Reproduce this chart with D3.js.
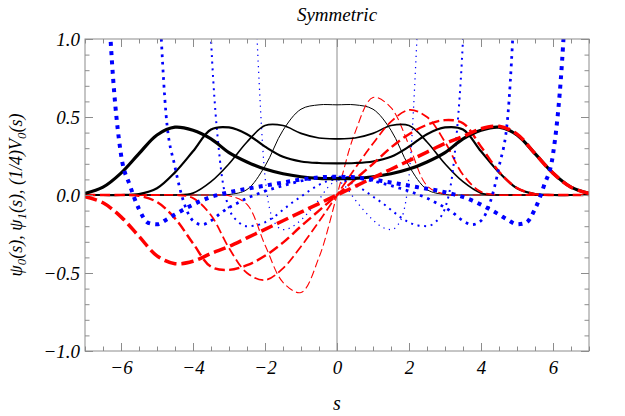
<!DOCTYPE html>
<html>
<head>
<meta charset="utf-8">
<script src="https://cdn.jsdelivr.net/npm/d3@7/dist/d3.min.js"></script>
<style>
    body { margin: 0; background: #fff; }
    svg text { font-family: "Liberation Serif", "DejaVu Serif", serif; font-style: italic; fill: #000; }
</style>
</head>
<body>
<script>
// sample positions (s) for the wave functions and for the potentials
const sPsi = [-7, -6.5, -6, -5.5, -5, -4.5, -4, -3.5, -3, -2.5, -2, -1.5, -1, -0.5, 0,
    0.5, 1, 1.5, 2, 2.5, 3, 3.5, 4, 4.5, 5, 5.5, 6, 6.5, 7];
const sV = [-7, -6.75, -6.5, -6.25, -6, -5.75, -5.5, -5.25, -5, -4.75, -4.5, -4.25, -4, -3.75,
    -3.5, -3.25, -3, -2.75, -2.5, -2.25, -2, -1.75, -1.5, -1.25, -1, -0.75, -0.5, -0.25, 0,
    0.25, 0.5, 0.75, 1, 1.25, 1.5, 1.75, 2, 2.25, 2.5, 2.75, 3, 3.25, 3.5, 3.75, 4, 4.25,
    4.5, 4.75, 5, 5.25, 5.5, 5.75, 6, 6.25, 6.5, 6.75, 7];

// psi0 (black), four well separations, thin -> thick
const psi0A = [0, 0, 0, 0, 0, 0, 0, 0, 0.003, 0.035, 0.185, 0.415, 0.55, 0.578, 0.578,
    0.578, 0.55, 0.415, 0.185, 0.035, 0.003, 0, 0, 0, 0, 0, 0, 0, 0];
const psi0B = [0, 0, 0, 0, 0, 0, 0.012, 0.085, 0.2, 0.34, 0.445, 0.445, 0.395, 0.365, 0.36,
    0.365, 0.395, 0.445, 0.445, 0.34, 0.2, 0.085, 0.012, 0, 0, 0, 0, 0, 0];
const psi0C = [0, 0, 0, 0.006, 0.043, 0.145, 0.28, 0.42, 0.433, 0.39, 0.31, 0.245, 0.215, 0.205, 0.203,
    0.205, 0.215, 0.245, 0.31, 0.39, 0.433, 0.42, 0.28, 0.145, 0.043, 0.006, 0, 0, 0];
const psi0D = [0.01, 0.05, 0.14, 0.265, 0.385, 0.435, 0.415, 0.36, 0.272, 0.212, 0.166, 0.136, 0.117, 0.107, 0.105,
    0.107, 0.117, 0.136, 0.166, 0.212, 0.272, 0.36, 0.415, 0.435, 0.385, 0.265, 0.14, 0.05, 0.01];

// psi1 (red dashed)
const psi1A = [0, 0, 0, 0, 0, 0, 0, 0, -0.005, -0.06, -0.32, -0.56, -0.625, -0.4, 0,
    0.4, 0.625, 0.56, 0.32, 0.06, 0.005, 0, 0, 0, 0, 0, 0, 0, 0];
const psi1B = [0, 0, 0, 0, 0, 0, -0.02, -0.13, -0.34, -0.5, -0.545, -0.47, -0.33, -0.17, 0,
    0.17, 0.33, 0.47, 0.545, 0.5, 0.34, 0.13, 0.02, 0, 0, 0, 0, 0, 0];
const psi1C = [0, 0, 0, -0.006, -0.045, -0.15, -0.31, -0.46, -0.48, -0.45, -0.39, -0.305, -0.2, -0.1, 0,
    0.1, 0.2, 0.305, 0.39, 0.45, 0.48, 0.46, 0.31, 0.15, 0.045, 0.006, 0, 0, 0];
const psi1D = [-0.01, -0.05, -0.14, -0.265, -0.39, -0.44, -0.425, -0.375, -0.33, -0.275, -0.22, -0.165, -0.11, -0.055, 0,
    0.055, 0.11, 0.165, 0.22, 0.275, 0.33, 0.375, 0.425, 0.44, 0.39, 0.265, 0.14, 0.05, 0.01];

// (1/4) V0 (blue dotted), null = far above the frame
const quarterVA = [null, null, null, null, null, null, null, null, null, null, null, null, null, null, null, null, null, null,
    2.6, 1.15, 0.12, -0.17, -0.222, -0.205, -0.16, -0.1, -0.03, 0.05, 0.09,
    0.05, -0.03, -0.1, -0.16, -0.205, -0.222, -0.17, 0.12, 1.15, 2.6,
    null, null, null, null, null, null, null, null, null, null, null, null, null, null, null, null, null, null];
const quarterVB = [null, null, null, null, null, null, null, null, null, null, null, null, null,
    2.6, 1.0, 0.22, -0.085, -0.17, -0.2, -0.195, -0.175, -0.14, -0.095, -0.05, -0.01, 0.03, 0.065, 0.09, 0.1,
    0.09, 0.065, 0.03, -0.01, -0.05, -0.095, -0.14, -0.175, -0.195, -0.2, -0.17, -0.085, 0.22, 1.0, 2.6,
    null, null, null, null, null, null, null, null, null, null, null, null, null];
const quarterVC = [null, null, null, null, null, null, null,
    3.2, 1.6, 0.52, 0.18, -0.05, -0.165, -0.19, -0.165, -0.12, -0.08, -0.05, -0.02, 0.003, 0.025,
    0.043, 0.06, 0.076, 0.09, 0.1, 0.108, 0.113, 0.115,
    0.113, 0.108, 0.1, 0.09, 0.076, 0.06, 0.043, 0.025, 0.003, -0.02, -0.05, -0.08, -0.12, -0.165,
    -0.19, -0.165, -0.05, 0.18, 0.52, 1.6, 3.2,
    null, null, null, null, null, null, null];
const quarterVD = [5.5, 3.6, 2.0, 0.85, 0.26, 0.06, -0.09, -0.178, -0.188, -0.16, -0.125, -0.092, -0.062, -0.035,
    -0.012, 0.004, 0.018, 0.03, 0.04, 0.05, 0.06, 0.07, 0.08, 0.09, 0.1, 0.107, 0.113, 0.116, 0.117,
    0.116, 0.113, 0.107, 0.1, 0.09, 0.08, 0.07, 0.06, 0.05, 0.04, 0.03, 0.018, 0.004, -0.012,
    -0.035, -0.062, -0.092, -0.125, -0.16, -0.188, -0.178, -0.09, 0.06, 0.26, 0.85, 2.0, 3.6, 5.5];

const xMajor = [-6, -4, -2, 0, 2, 4, 6];
const yMajor = [-1, -0.5, 0, 0.5, 1];

const width = 625, height = 416;
const margin = {top: 39, right: 36, bottom: 65, left: 85};

const x = d3.scaleLinear().domain([-7, 7]).range([margin.left, width - margin.right]);
const y = d3.scaleLinear().domain([-1, 1]).range([height - margin.bottom, margin.top]);

const svg = d3.select("body").append("svg")
    .attr("width", width)
    .attr("height", height);

svg.append("clipPath").attr("id", "plotArea")
    .append("rect")
    .attr("x", x(-7)).attr("y", y(1))
    .attr("width", x(7) - x(-7)).attr("height", y(-1) - y(1));

const frameColor = "#8c8c8c";

// axes through the origin
svg.append("line")
    .attr("x1", x(-7)).attr("x2", x(7)).attr("y1", y(0)).attr("y2", y(0))
    .attr("stroke", frameColor).attr("stroke-width", 1);
svg.append("line")
    .attr("x1", x(0)).attr("x2", x(0)).attr("y1", y(-1)).attr("y2", y(1))
    .attr("stroke", frameColor).attr("stroke-width", 1);

// curves
const plot = svg.append("g").attr("clip-path", "url(#plotArea)");

const psiLine = d3.line().curve(d3.curveCatmullRom.alpha(0.5));
const vLine = d3.line().defined(d => d[1] !== null).curve(d3.curveMonotoneX);

function drawSeries(xs, ys, lineGen, style){
    const pts = xs.map((s, i) => [s, ys[i]]);
    plot.append("path")
        .datum(pts)
        .attr("fill", "none")
        .attr("stroke", style.color)
        .attr("stroke-width", style.width)
        .attr("stroke-dasharray", style.dash || null)
        .attr("stroke-linecap", style.cap || "butt")
        .attr("d", lineGen.x(d => x(d[0])).y(d => y(d[1] === null ? 0 : d[1])));
}

const sets = [
    {p0: psi0A, p1: psi1A, v: quarterVA, w: 1.0},
    {p0: psi0B, p1: psi1B, v: quarterVB, w: 1.6},
    {p0: psi0C, p1: psi1C, v: quarterVC, w: 2.2},
    {p0: psi0D, p1: psi1D, v: quarterVD, w: 3.2}
];

sets.forEach(set => {
    drawSeries(sPsi, set.p0, psiLine, {color: "#000", width: set.w});
    drawSeries(sPsi, set.p1, psiLine, {color: "#ff0000", width: set.w * 1.1,
        dash: (6 + 2 * set.w) + "," + (3 + 0.6 * set.w)});
    drawSeries(sV, set.v, vLine, {color: "#0000ff", width: set.w * 1.25,
        dash: (set.w * 1.25) + "," + (4 + set.w * 0.4)});
});

// frame with inward ticks on all four sides
function tickAxis(axis, translate, values, size, labels){
    const g = svg.append("g")
        .attr("transform", translate)
        .call(axis.tickValues(values).tickSizeInner(-size).tickSizeOuter(0)
            .tickFormat(labels || (() => "")));
    g.select(".domain").remove();
    g.selectAll(".tick line").attr("stroke", frameColor);
    g.attr("font-size", 19).attr("font-family", null);
    return g;
}

const xMinor = d3.range(-7, 7.001, 0.5).filter(v => !xMajor.includes(v));
const yMinor = d3.range(-10, 10.001, 1).map(v => v / 10).filter(v => !yMajor.includes(v));

const atBottom = "translate(0," + y(-1) + ")", atTop = "translate(0," + y(1) + ")";
const atLeft = "translate(" + x(-7) + ",0)", atRight = "translate(" + x(7) + ",0)";

tickAxis(d3.axisBottom(x).tickPadding(10), atBottom, xMajor, 8, d3.format("d"));
tickAxis(d3.axisBottom(x), atBottom, xMinor, 4.5);
tickAxis(d3.axisTop(x), atTop, xMajor, 8);
tickAxis(d3.axisTop(x), atTop, xMinor, 4.5);
tickAxis(d3.axisLeft(y).tickPadding(5), atLeft, yMajor, 8, d3.format(".1f"));
tickAxis(d3.axisLeft(y), atLeft, yMinor, 4.5);
tickAxis(d3.axisRight(y), atRight, yMajor, 8);
tickAxis(d3.axisRight(y), atRight, yMinor, 4.5);

svg.append("rect")
    .attr("x", x(-7)).attr("y", y(1))
    .attr("width", x(7) - x(-7)).attr("height", y(-1) - y(1))
    .attr("fill", "none").attr("stroke", frameColor).attr("stroke-width", 1);

// labels
svg.append("text")
    .attr("x", x(0)).attr("y", 21)
    .attr("text-anchor", "middle")
    .attr("font-size", 19)
    .text("Symmetric");

svg.append("text")
    .attr("x", x(0)).attr("y", 410)
    .attr("text-anchor", "middle")
    .attr("font-size", 20)
    .text("s");

const yLabel = svg.append("text")
    .attr("transform", "translate(22," + y(0) + ") rotate(-90)")
    .attr("text-anchor", "middle")
    .attr("font-size", 18);
const parts = [["ψ", "0", "(s), "], ["ψ", "1", "(s), (1/4)"], ["V", "0", "(s)"]];
parts.forEach(p => {
    yLabel.append("tspan").text(p[0]);
    yLabel.append("tspan").attr("font-size", 13).attr("dy", 4).text(p[1]);
    yLabel.append("tspan").attr("dy", -4).text(p[2]);
});
</script>
</body>
</html>
